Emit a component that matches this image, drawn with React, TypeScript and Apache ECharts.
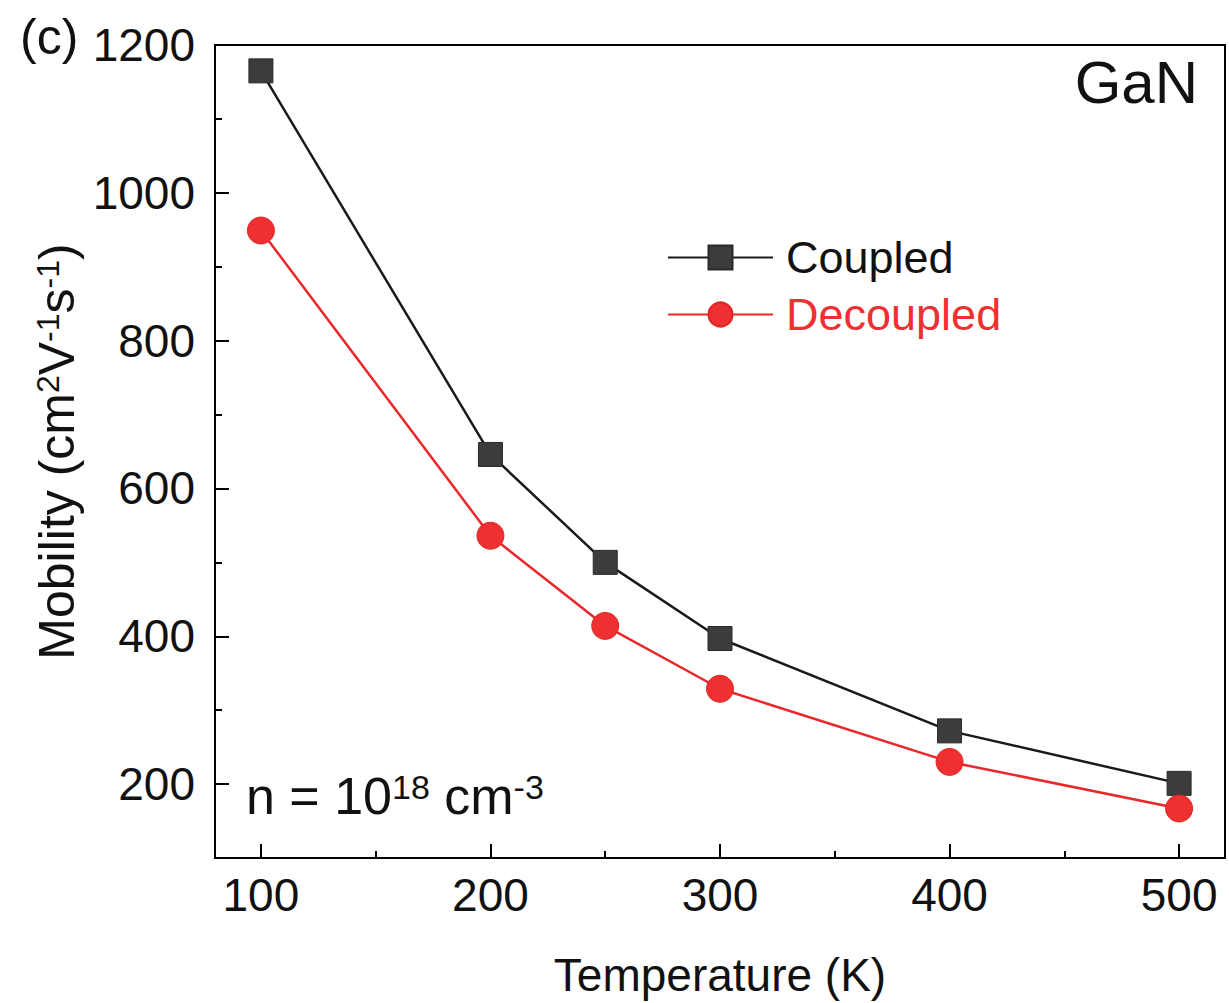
import React, { useEffect, useRef } from "react";
import * as echarts from "echarts";

const temperatures = [100, 200, 250, 300, 400, 500];
const coupled = [1165, 646, 500, 397, 272, 201];
const decoupled = [949, 536, 414, 329, 230, 167];
const xMajorTicks = [100, 200, 300, 400, 500];
const xMinorTicks = [150, 250, 350, 450];
const yMajorTicks = [200, 400, 600, 800, 1000, 1200];
const yMinorTicks = [300, 500, 700, 900, 1100];

const FONT = "'Liberation Sans', Arial, Helvetica, sans-serif";
const RED = "#ee3030";
const DARK = "#3c3c3c";

export default function App() {
  const ref = useRef<HTMLDivElement>(null);
  useEffect(() => {
    if (!ref.current) return;
    const chart = echarts.init(ref.current, null, { renderer: "svg" });
    const axisLine = { show: true, onZero: false, lineStyle: { color: "#000", width: 2 } };
    const baseX = { type: "value", min: 80, max: 520, splitLine: { show: false }, gridIndex: 0, position: "bottom" };
    const baseY = { type: "value", min: 100, max: 1200, splitLine: { show: false }, gridIndex: 0, position: "left" };
    const plain = (v: number) => String(v);
    chart.setOption({
      animation: false,
      backgroundColor: "#fff",
      textStyle: { fontFamily: FONT },
      grid: {
        left: 215, top: 45, width: 1010, height: 815,
        show: true, borderColor: "#000", borderWidth: 2, backgroundColor: "transparent",
      },
      xAxis: [
        {
          ...baseX,
          axisLine,
          axisTick: { show: true, inside: true, length: 14, customValues: xMajorTicks, lineStyle: { color: "#000", width: 2 } },
          axisLabel: { customValues: xMajorTicks, formatter: plain, fontSize: 46, margin: 14, color: "#111", fontFamily: FONT },
          name: "Temperature (K)",
          nameLocation: "middle",
          nameGap: 94,
          nameTextStyle: { fontSize: 46, color: "#111", fontFamily: FONT },
        },
        {
          ...baseX,
          axisLine: { show: false, onZero: false },
          axisTick: { show: true, inside: true, length: 7, customValues: xMinorTicks, lineStyle: { color: "#000", width: 2 } },
          axisLabel: { show: false },
        },
      ],
      yAxis: [
        {
          ...baseY,
          axisLine,
          axisTick: { show: true, inside: true, length: 14, customValues: yMajorTicks, lineStyle: { color: "#000", width: 2 } },
          axisLabel: { customValues: yMajorTicks, formatter: plain, fontSize: 46, margin: 20, color: "#111", fontFamily: FONT },
          name: "{a|Mobility (cm}{s|2}{a|V}{s|-1}{a|s}{s|-1}{a|)}",
          nameLocation: "middle",
          nameGap: 104,
          nameRotate: 90,
          nameTextStyle: {
            color: "#111",
            rich: {
              a: { fontSize: 50, lineHeight: 50, color: "#111", fontFamily: FONT, verticalAlign: "bottom" },
              s: { fontSize: 32, lineHeight: 30, color: "#111", fontFamily: FONT, verticalAlign: "top" },
            },
          },
        },
        {
          ...baseY,
          axisLine: { show: false, onZero: false },
          axisTick: { show: true, inside: true, length: 7, customValues: yMinorTicks, lineStyle: { color: "#000", width: 2 } },
          axisLabel: { show: false },
        },
      ],
      legend: {
        orient: "vertical",
        left: 667,
        top: 235,
        padding: 0,
        itemWidth: 105,
        itemHeight: 30,
        itemGap: 12,
        textStyle: { fontSize: 45, color: "#111", fontFamily: FONT, lineHeight: 44, padding: [0, 0, 0, 8] },
        data: [
          { name: "Coupled" },
          { name: "Decoupled", textStyle: { color: RED } },
        ],
      },
      series: [
        {
          name: "Coupled",
          type: "line",
          xAxisIndex: 0,
          yAxisIndex: 0,
          data: temperatures.map((t, i) => [t, coupled[i]]),
          symbol: "rect",
          symbolSize: 24,
          itemStyle: { color: DARK, borderColor: "#2a2a2a", borderWidth: 1 },
          lineStyle: { color: "#1a1a1a", width: 2.5 },
          z: 3,
        },
        {
          name: "Decoupled",
          type: "line",
          xAxisIndex: 0,
          yAxisIndex: 0,
          data: temperatures.map((t, i) => [t, decoupled[i]]),
          symbol: "circle",
          symbolSize: 27,
          itemStyle: { color: RED, borderColor: "#e02525", borderWidth: 1 },
          lineStyle: { color: "#e8282a", width: 2.5 },
          z: 4,
        },
      ],
      graphic: [
        {
          type: "text",
          left: 20,
          top: 12,
          style: { text: "(c)", fontSize: 50, fill: "#111", fontFamily: FONT },
        },
        {
          type: "text",
          x: 1198,
          y: 82,
          style: { text: "GaN", fontSize: 60, fill: "#111", fontFamily: FONT, align: "right", verticalAlign: "middle" },
        },
        {
          type: "text",
          x: 246,
          y: 796,
          style: {
            text: "{a|n = 10}{s|18}{a| cm}{s|-3}",
            align: "left",
            verticalAlign: "middle",
            fill: "#111",
            rich: {
              a: { fontSize: 52, lineHeight: 52, fill: "#111", fontFamily: FONT, verticalAlign: "bottom" },
              s: { fontSize: 34, lineHeight: 30, fill: "#111", fontFamily: FONT, verticalAlign: "top" },
            },
          },
        },
      ],
    });
    return () => chart.dispose();
  }, []);
  return (
    <div
      ref={ref}
      style={{ position: "absolute", left: 0, top: 0, width: 1229, height: 1003, background: "#fff" }}
    />
  );
}
